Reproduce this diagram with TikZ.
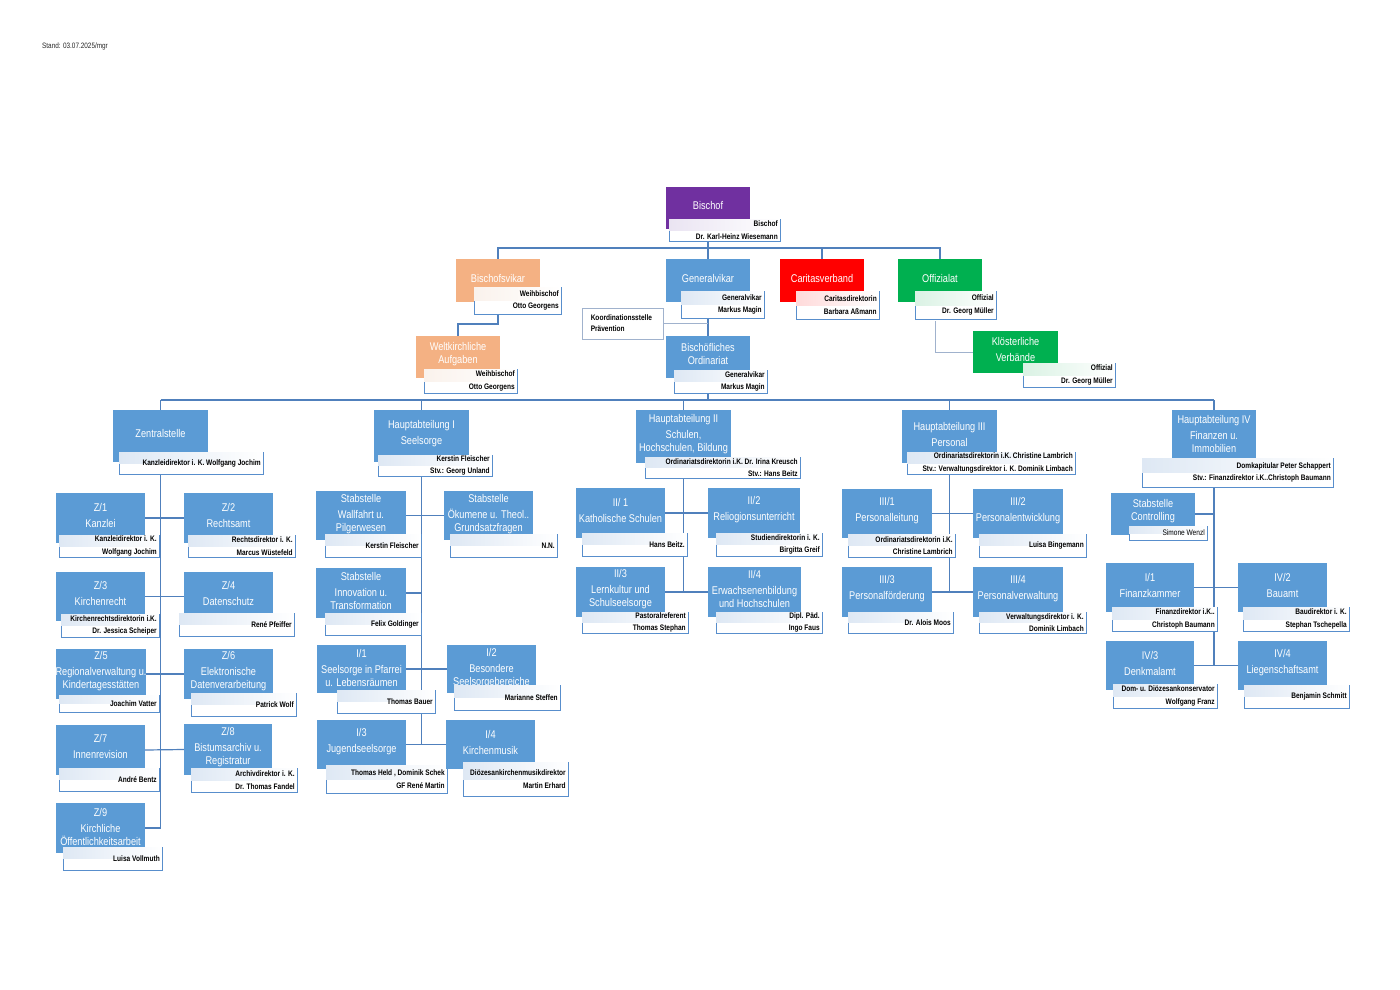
\documentclass[tikz,border=0pt]{standalone}
\usepackage{fontspec}
\setmainfont{Liberation Sans}[FakeStretch=0.82]
\usetikzlibrary{fit}
\definecolor{bxblue}{RGB}{91,155,213}
\definecolor{lnblue}{RGB}{80,128,188}
\definecolor{wbord}{RGB}{88,142,204}
\definecolor{peach}{RGB}{244,177,131}
\definecolor{cred}{RGB}{255,0,0}
\definecolor{cgreen}{RGB}{0,176,80}
\definecolor{cpurple}{RGB}{112,48,160}
\definecolor{lgray}{RGB}{160,178,205}
\definecolor{tblue}{RGB}{222,232,244}
\definecolor{tpeach}{RGB}{250,242,236}
\definecolor{tred}{RGB}{255,218,218}
\definecolor{tgreen}{RGB}{218,242,228}
\definecolor{tpurple}{RGB}{234,228,242}
\pgfdeclarelayer{back}
\pgfdeclarelayer{bg}
\pgfsetlayers{back,bg,main}
\tikzset{
 cbox/.style={draw=none, inner sep=0pt},
 ttl/.style={text=white, align=center, font=\fontsize{11.2}{12.5}\selectfont, inner sep=0pt},
 wbx/.style={draw=wbord, fill=white, line width=0.9pt, inner sep=0pt},
 nm/.style={align=right, font=\fontsize{8}{12.3}\selectfont\bfseries, inner sep=0pt, anchor=east},
 conn/.style={draw=lnblue, line width=1.2pt},
 lconn/.style={draw=lgray, line width=1pt},
}
\newcommand\OrgBox[8]{%
 \node[cbox, fill=#2, fit={(#3,#4) (#5,#6)}] (#1) {};
 \node[ttl] (#1t) at ({(#3+#5)/2},#8) {#7};}
\newcommand\NameBox[7]{%
 \node[wbx, fit={(#2,#3) (#4,#5)}] (#1) {};
 \fill[left color=#7, right color=white] ([shift={(0.5pt,-0.5pt)}]#1.north west) rectangle ([xshift=-0.5pt]#1.east);
 \node[nm] (#1n) at ([xshift=-2.5pt]#1.east) {#6};}
\begin{document}
\begin{tikzpicture}[x=1pt,y=-1pt]
\useasboundingbox (0,0) rectangle (1400,990);
\begin{pgfonlayer}{back}
\fill[white] (0,0) rectangle (1400,990);
\end{pgfonlayer}
\node[anchor=west, font=\fontsize{7.8}{9}\selectfont, text=black!85, inner sep=0pt] (stand) at (42,46) {Stand: 03.07.2025/mgr};
% top
\OrgBox{bischof}{cpurple}{666}{187}{750}{229}{Bischof}{205}
\NameBox{bischofw}{669}{219}{780}{241}{Bischof\\Dr. Karl-Heinz Wiesemann}{tpurple}
\OrgBox{bvikar}{peach}{456}{259}{540}{302}{Bischofsvikar}{278}
\NameBox{bvikarw}{474}{287}{561}{314}{Weihbischof\\Otto Georgens}{tpeach}
\OrgBox{weltk}{peach}{416}{336}{500}{378}{Weltkirchliche\\Aufgaben}{354}
\NameBox{weltkw}{424}{369}{517}{393}{Weihbischof\\Otto Georgens}{tpeach}
\OrgBox{gv}{bxblue}{666}{259}{750}{302}{Generalvikar}{278}
\NameBox{gvw}{681}{291}{764}{318}{Generalvikar\\Markus Magin}{tblue}
\OrgBox{ord}{bxblue}{666}{336}{750}{378}{Bischöfliches\\Ordinariat}{354}
\NameBox{ordw}{674}{370}{767}{393}{Generalvikar\\Markus Magin}{tblue}
\OrgBox{caritas}{cred}{780}{259}{864}{302}{Caritasverband}{278}
\NameBox{caritasw}{796}{291}{879}{319}{Caritasdirektorin\\Barbara Aßmann}{tred}
\OrgBox{offiz}{cgreen}{898}{259}{982}{302}{Offizialat}{278}
\NameBox{offizw}{915}{291}{996}{319}{Offizial\\Dr. Georg Müller}{tgreen}
\OrgBox{kloster}{cgreen}{973}{331}{1058}{373}{Klösterliche\\[3.5pt]Verbände}{349}
\NameBox{klosterw}{1023}{363}{1115}{387}{Offizial\\Dr. Georg Müller}{tgreen}
\node[draw=lgray, fill=white, line width=0.9pt, inner sep=0pt, fit={(582,308) (663,339)}] (koord) {};
\node[anchor=west, align=left, inner sep=0pt, font=\fontsize{8}{11}\selectfont\bfseries] (koordt) at ([xshift=9pt]koord.west) {Koordinationsstelle\\Prävention};
% Zentralstelle
\OrgBox{zs}{bxblue}{113}{410}{208}{462}{Zentralstelle}{433}
\NameBox{zsw}{119}{452}{263}{474}{Kanzleidirektor i. K. Wolfgang Jochim}{tblue}
\OrgBox{z1}{bxblue}{56}{493}{145}{543}{Z/1\\[3.5pt]Kanzlei}{515}
\NameBox{z1w}{59}{535}{159}{557}{Kanzleidirektor i. K.\\Wolfgang Jochim}{tblue}
\OrgBox{z2}{bxblue}{184}{493}{273}{543}{Z/2\\[3.5pt]Rechtsamt}{515}
\NameBox{z2w}{188}{535}{295}{557}{Rechtsdirektor i. K.\\Marcus Wüstefeld}{tblue}
\OrgBox{z3}{bxblue}{56}{572}{145}{621}{Z/3\\[3.5pt]Kirchenrecht}{593}
\NameBox{z3w}{61}{614}{159}{637}{Kirchenrechtsdirektorin i.K.\\Dr. Jessica Scheiper}{tblue}
\OrgBox{z4}{bxblue}{184}{572}{273}{621}{Z/4\\[3.5pt]Datenschutz}{593}
\NameBox{z4w}{179}{613}{294}{636}{René Pfeiffer}{tblue}
\OrgBox{z5}{bxblue}{56}{649}{146}{699}{Z/5\\[3.5pt]Regionalverwaltung u.\\Kindertagesstätten}{671}
\NameBox{z5w}{59}{695}{159}{712}{Joachim Vatter}{tblue}
\OrgBox{z6}{bxblue}{184}{649}{273}{699}{Z/6\\[3.5pt]Elektronische\\Datenverarbeitung}{671}
\NameBox{z6w}{191}{693}{296}{716}{Patrick Wolf}{tblue}
\OrgBox{z7}{bxblue}{56}{725}{145}{775}{Z/7\\[3.5pt]Innenrevision}{746}
\NameBox{z7w}{59}{768}{159}{791}{André Bentz}{tblue}
\OrgBox{z8}{bxblue}{184}{724}{272}{775}{Z/8\\[3.5pt]Bistumsarchiv u.\\Registratur}{747}
\NameBox{z8w}{191}{768}{297}{792}{Archivdirektor i. K.\\Dr. Thomas Fandel}{tblue}
\OrgBox{z9}{bxblue}{56}{803}{145}{853}{Z/9\\[3.5pt]Kirchliche\\Öffentlichkeitsarbeit}{827}
\NameBox{z9w}{63}{847}{162}{870}{Luisa Vollmuth}{tblue}
% HA I
\OrgBox{ha1}{bxblue}{374}{410}{469}{462}{Hauptabteilung I\\[3.5pt]Seelsorge}{434}
\NameBox{ha1w}{378}{455}{492}{476}{Kerstin Fleischer\\Stv.: Georg Unland}{tblue}
\OrgBox{sw}{bxblue}{316}{491}{406}{540}{Stabstelle\\[3.5pt]Wallfahrt u.\\Pilgerwesen}{514}
\NameBox{sww}{325}{534}{421}{557}{Kerstin Fleischer}{tblue}
\OrgBox{so}{bxblue}{444}{491}{533}{540}{Stabstelle\\[3.5pt]Ökumene u. Theol..\\Grundsatzfragen}{514}
\NameBox{sow}{450}{534}{557}{557}{N.N.}{tblue}
\OrgBox{si}{bxblue}{316}{568}{406}{618}{Stabstelle\\[3.5pt]Innovation u.\\Transformation}{591}
\NameBox{siw}{325}{613}{421}{635}{Felix Goldinger}{tblue}
\OrgBox{i1}{bxblue}{317}{645}{406}{693}{I/1\\[3.5pt]Seelsorge in Pfarrei\\u. Lebensräumen}{668}
\NameBox{i1w}{337}{690}{435}{713}{Thomas Bauer}{tblue}
\OrgBox{i2}{bxblue}{447}{645}{536}{693}{I/2\\[3.5pt]Besondere\\Seelsorgebereiche}{668}
\NameBox{i2w}{454}{685}{560}{710}{Marianne Steffen}{tblue}
\OrgBox{i3}{bxblue}{317}{720}{406}{769}{I/3\\[3.5pt]Jugendseelsorge}{742}
\NameBox{i3w}{326}{765}{447}{793}{Thomas Held , Dominik Schek\\GF René Martin}{tblue}
\OrgBox{i4}{bxblue}{446}{720}{535}{769}{I/4\\[3.5pt]Kirchenmusik}{742}
\NameBox{i4w}{463}{762}{568}{796}{Diözesankirchenmusikdirektor\\Martin Erhard}{tblue}
% HA II
\OrgBox{ha2}{bxblue}{636}{410}{731}{463}{Hauptabteilung II\\[3.5pt]Schulen,\\Hochschulen, Bildung}{434}
\NameBox{ha2w}{645}{457}{800}{478}{Ordinariatsdirektorin i.K. Dr. Irina Kreusch\\Stv.: Hans Beitz}{tblue}
\OrgBox{ii1}{bxblue}{576}{488}{665}{538}{II/ 1\\[3.5pt]Katholische Schulen}{510}
\NameBox{ii1w}{582}{533}{687}{556}{Hans Beitz.}{tblue}
\OrgBox{ii2}{bxblue}{708}{488}{800}{538}{II/2\\[3.5pt]Reliogionsunterricht}{510}
\NameBox{ii2w}{716}{533}{822}{556}{Studiendirektorin i. K.\\Birgitta Greif}{tblue}
\OrgBox{ii3}{bxblue}{576}{567}{665}{617}{II/3\\[3.5pt]Lernkultur und\\Schulseelsorge}{589}
\NameBox{ii3w}{582}{612}{688}{633}{Pastoralreferent\\Thomas Stephan}{tblue}
\OrgBox{ii4}{bxblue}{708}{567}{801}{617}{II/4\\[3.5pt]Erwachsenenbildung\\und Hochschulen}{589}
\NameBox{ii4w}{716}{612}{822}{633}{Dipl. Päd.\\Ingo Faus}{tblue}
% HA III
\OrgBox{ha3}{bxblue}{902}{410}{997}{463}{Hauptabteilung III\\[3.5pt]Personal}{434}
\NameBox{ha3w}{907}{452}{1075}{474}{Ordinariatsdirektorin i.K. Christine Lambrich\\Stv.: Verwaltungsdirektor i. K. Dominik Limbach}{tblue}
\OrgBox{iii1}{bxblue}{842}{489}{932}{538}{III/1\\[3.5pt]Personalleitung}{511}
\NameBox{iii1w}{848}{534}{955}{557}{Ordinariatsdirektorin i.K.\\Christine Lambrich}{tblue}
\OrgBox{iii2}{bxblue}{973}{489}{1063}{538}{III/2\\[3.5pt]Personalentwicklung}{511}
\NameBox{iii2w}{979}{534}{1086}{557}{Luisa Bingemann}{tblue}
\OrgBox{iii3}{bxblue}{842}{567}{932}{617}{III/3\\[3.5pt]Personalförderung}{589}
\NameBox{iii3w}{848}{612}{953}{633}{Dr. Alois Moos}{tblue}
\OrgBox{iii4}{bxblue}{973}{567}{1063}{617}{III/4\\[3.5pt]Personalverwaltung}{589}
\NameBox{iii4w}{979}{612}{1086}{633}{Verwaltungsdirektor i. K.\\Dominik Limbach}{tblue}
% HA IV
\OrgBox{ha4}{bxblue}{1172}{410}{1256}{462}{Hauptabteilung IV\\[3.5pt]Finanzen u.\\Immobilien}{434}
\NameBox{ha4w}{1142}{458}{1333}{487}{Domkapitular Peter Schappert\\Stv.: Finanzdirektor i.K..Christoph Baumann}{tblue}
\OrgBox{ctrl}{bxblue}{1111}{493}{1195}{535}{Stabstelle\\Controlling}{511}
\NameBox{ctrlw}{1129}{526}{1207}{540}{\mdseries Simone Wenzl}{tblue}
\OrgBox{iv1}{bxblue}{1106}{563}{1194}{612}{I/1\\[3.5pt]Finanzkammer}{585}
\NameBox{iv1w}{1112}{607}{1217}{631}{Finanzdirektor i.K..\\Christoph Baumann}{tblue}
\OrgBox{iv2}{bxblue}{1238}{563}{1327}{612}{IV/2\\[3.5pt]Bauamt}{585}
\NameBox{iv2w}{1243}{607}{1349}{631}{Baudirektor i. K.\\Stephan Tschepella}{tblue}
\OrgBox{iv3}{bxblue}{1106}{641}{1194}{690}{IV/3\\[3.5pt]Denkmalamt}{663}
\NameBox{iv3w}{1113}{684}{1217}{708}{Dom- u. Diözesankonservator\\Wolfgang Franz}{tblue}
\OrgBox{iv4}{bxblue}{1238}{641}{1327}{690}{IV/4\\[3.5pt]Liegenschaftsamt}{663}
\NameBox{iv4w}{1244}{685}{1349}{708}{Benjamin Schmitt}{tblue}
% connectors
\coordinate (busA) at (0,248);
\coordinate (busB) at (0,400);
\coordinate (kA) at (0,324);
\coordinate (oA) at (935,321);
\begin{pgfonlayer}{bg}
\draw[conn] (bischof.south) -- (gv.north);
\draw[conn] (bvikar.north) -- (bvikar.north |- busA) -- (offiz.north |- busA) -- (offiz.north);
\draw[conn] (caritas.north) -- (caritas.north |- busA);
\draw[conn] (bvikar.south) -- (bvikar.south |- kA) -- (weltk.north |- kA) -- (weltk.north);
\draw[conn] (gv.south) -- (ord.north);
\draw[lconn] (koord.east) -- (koord.east -| gv.south);
\draw[lconn] (oA) |- (kloster.west);
\draw[conn] (ord.south) -- (ord.south |- busB);
\draw[conn] (zs.north |- busB) -- (ha4.north |- busB);
\foreach \h in {zs,ha1,ha2,ha3,ha4} \draw[conn] (\h.north) -- (\h.north |- busB);
\draw[conn] (zs.south) -- (zs.south |- z9.east) -- (z9.east);
\draw[conn] (z1.east) -- (z2.west);
\draw[conn] (z3.east) -- (z4.west);
\draw[conn] (z5.east) -- (z6.west);
\draw[conn] (z7.east) -- (z8.west);
\draw[conn] (ha1.south) -- (ha1.south |- i3.east);
\draw[conn] (sw.east) -- (so.west);
\draw[conn] (si.east) -- (si.east -| ha1.south);
\draw[conn] (i1.east) -- (i2.west);
\draw[conn] (i3.east) -- (i4.west);
\draw[conn] (ha2.south) -- (ha2.south |- ii3.east);
\draw[conn] (ii1.east) -- (ii2.west);
\draw[conn] (ii3.east) -- (ii4.west);
\draw[conn] (ha3.south) -- (ha3.south |- iii3.east);
\draw[conn] (iii1.east) -- (iii2.west);
\draw[conn] (iii3.east) -- (iii4.west);
\draw[conn] (ha4.south) -- (ha4.south |- iv3.east);
\draw[conn] (ctrl.east) -- (ctrl.east -| ha4.south);
\draw[conn] (iv1.east) -- (iv2.west);
\draw[conn] (iv3.east) -- (iv4.west);
\end{pgfonlayer}
\end{tikzpicture}
\end{document}
